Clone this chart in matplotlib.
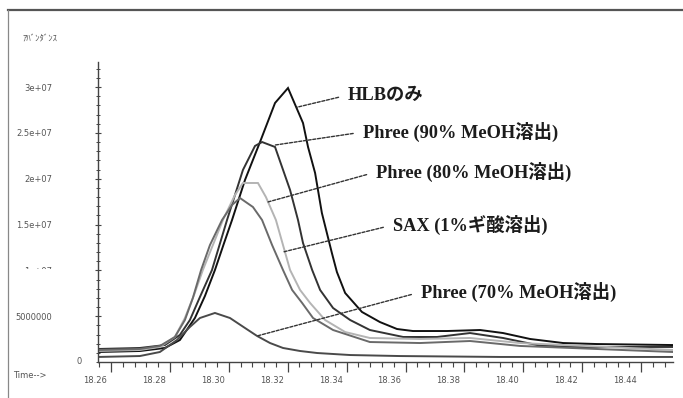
import matplotlib
matplotlib.use("Agg")
import matplotlib.pyplot as plt
from matplotlib.ticker import MultipleLocator, FixedLocator
from matplotlib.transforms import ScaledTranslation
from matplotlib.lines import Line2D
from matplotlib.patches import Rectangle

# ---------------- data (time in min, abundance in counts) ----------------
hlb_t = [18.2556, 18.2698, 18.2783, 18.2834, 18.2885, 18.2919, 18.2953, 18.2984, 18.3011,
         18.3055, 18.3106, 18.3157, 18.3201, 18.3252, 18.3269, 18.3293, 18.3316, 18.3350,
         18.3367, 18.3395, 18.3452, 18.3513, 18.3571, 18.3625, 18.3741, 18.3853, 18.3931,
         18.4023, 18.4135, 18.4250, 18.4508]
hlb_v = [1.09e6, 1.20e6, 1.53e6, 2.40e6, 4.80e6, 7.20e6, 10.04e6, 12.98e6, 15.49e6,
         19.86e6, 24.00e6, 28.26e6, 29.89e6, 26.07e6, 23.46e6, 20.62e6, 16.26e6, 11.89e6,
         9.82e6, 7.53e6, 5.46e6, 4.36e6, 3.60e6, 3.38e6, 3.38e6, 3.49e6, 3.16e6,
         2.51e6, 2.07e6, 1.96e6, 1.85e6]

p90_t = [18.2556, 18.2698, 18.2783, 18.2834, 18.2868, 18.2902, 18.2943, 18.2994, 18.3048,
         18.3089, 18.3113, 18.3157, 18.3208, 18.3235, 18.3252, 18.3283, 18.3310, 18.3354,
         18.3412, 18.3479, 18.3592, 18.3707, 18.3819, 18.3931, 18.4047, 18.4159, 18.4508]
p90_v = [1.42e6, 1.53e6, 1.85e6, 2.95e6, 4.58e6, 7.09e6, 10.04e6, 15.49e6, 20.95e6,
         23.57e6, 24.00e6, 23.46e6, 18.77e6, 15.49e6, 12.98e6, 10.04e6, 7.86e6, 5.89e6,
         4.58e6, 3.49e6, 2.73e6, 2.73e6, 3.16e6, 2.62e6, 1.85e6, 1.64e6, 1.64e6]

p80_t = [18.2556, 18.2698, 18.2766, 18.2817, 18.2851, 18.2882, 18.2912, 18.2946, 18.2980,
         18.3021, 18.3048, 18.3099, 18.3126, 18.3160, 18.3208, 18.3242, 18.3276, 18.3327,
         18.3395, 18.3479, 18.3649, 18.3819, 18.3989, 18.4508]
p80_v = [1.20e6, 1.31e6, 1.64e6, 2.73e6, 4.80e6, 7.31e6, 10.04e6, 12.76e6, 15.49e6,
         18.22e6, 19.53e6, 19.53e6, 18.00e6, 15.49e6, 10.04e6, 7.86e6, 6.44e6, 4.58e6,
         3.27e6, 2.62e6, 2.51e6, 2.62e6, 2.07e6, 1.31e6]

sax_t = [18.2556, 18.2698, 18.2766, 18.2817, 18.2851, 18.2878, 18.2906, 18.2936, 18.2977,
         18.3011, 18.3038, 18.3082, 18.3113, 18.3147, 18.3184, 18.3215, 18.3249, 18.3286,
         18.3354, 18.3479, 18.3649, 18.3819, 18.3989, 18.4508]
sax_v = [1.31e6, 1.42e6, 1.75e6, 2.73e6, 4.58e6, 6.98e6, 10.04e6, 12.76e6, 15.49e6,
         17.13e6, 17.89e6, 16.91e6, 15.49e6, 12.76e6, 10.04e6, 7.86e6, 6.44e6, 4.80e6,
         3.49e6, 2.18e6, 2.07e6, 2.29e6, 1.75e6, 1.09e6]

p70_t = [18.2556, 18.2698, 18.2766, 18.2824, 18.2868, 18.2902, 18.2953, 18.3004, 18.3055,
         18.3096, 18.3140, 18.3184, 18.3242, 18.3300, 18.3412, 18.3581, 18.3921, 18.4508]
p70_v = [0.55e6, 0.65e6, 1.09e6, 2.40e6, 3.82e6, 4.80e6, 5.35e6, 4.80e6, 3.71e6,
         2.84e6, 2.07e6, 1.53e6, 1.20e6, 0.98e6, 0.76e6, 0.65e6, 0.55e6, 0.55e6]

labels = ["HLBのみ", "Phree (90% MeOH溶出)", "Phree (80% MeOH溶出)",
          "SAX (1%ギ酸溶出)", "Phree (70% MeOH溶出)"]

x_ticks = [18.26, 18.28, 18.30, 18.32, 18.34, 18.36, 18.38, 18.40, 18.42, 18.44]
y_ticks = [5e6, 1e7, 1.5e7, 2e7, 2.5e7, 3e7]
y_tick_labels = ["5000000", "1e+07", "1.5e+07", "2e+07", "2.5e+07", "3e+07"]

# leader-line anchors (point on curve) and label positions
anchor_t = [18.3232, 18.3157, 18.3133, 18.3184, 18.3096]
anchor_v = [27.8e6, 23.67e6, 17.46e6, 12.0e6, 2.84e6]
text_t = [18.3405, 18.3455, 18.3500, 18.3557, 18.3652]
text_v = [29.13e6, 25.09e6, 20.73e6, 14.95e6, 7.64e6]

# ---------------- figure ----------------
W, H = 683, 398
fig = plt.figure(figsize=(W / 100, H / 100), dpi=100)
fig.patch.set_facecolor("white")

# window frame
fig.add_artist(Line2D([8 / W, 1], [1 - 10 / H, 1 - 10 / H], color="#555555", lw=1.6,
                      transform=fig.transFigure))
fig.add_artist(Line2D([8 / W, 8 / W], [0, 1 - 10 / H], color="#888888", lw=0.9,
                      transform=fig.transFigure))

ax_l, ax_r, ax_b, ax_t = 98, 673, 362, 62
ax = fig.add_axes([ax_l / W, 1 - ax_b / H, (ax_r - ax_l) / W, (ax_b - ax_t) / H])
ax.set_xlim(18.2556, 18.4508)
ax.set_ylim(0, 3.273e7)

series = [
    (hlb_t, hlb_v, "#111111"),
    (p90_t, p90_v, "#333333"),
    (p80_t, p80_v, "#b4b4b4"),
    (sax_t, sax_v, "#6a6a6a"),
    (p70_t, p70_v, "#4a4a4a"),
]
for t, v, c in series:
    ax.plot(t, v, color=c, lw=1.4, solid_joinstyle="miter")

for spine in ("top", "right"):
    ax.spines[spine].set_visible(False)
for spine in ("left", "bottom"):
    ax.spines[spine].set_color("#444444")
    ax.spines[spine].set_linewidth(1.0)

# x axis ticks
ax.xaxis.set_major_locator(FixedLocator(x_ticks))
ax.xaxis.set_minor_locator(MultipleLocator(0.004))
ax.set_xticklabels([f"{x:.2f}" for x in x_ticks])
ax.tick_params(axis="x", which="major", direction="out", length=7, width=0.9,
               color="#444444", labelsize=6, labelcolor="#555555", pad=3)
ax.tick_params(axis="x", which="minor", direction="out", length=3.5, width=0.8,
               color="#444444")
off = ScaledTranslation(-0.16, 0, fig.dpi_scale_trans)
for lab in ax.get_xticklabels():
    lab.set_transform(lab.get_transform() + off)

# y axis ticks
ax.yaxis.set_major_locator(FixedLocator(y_ticks))
ax.yaxis.set_minor_locator(MultipleLocator(1e6))
ax.set_yticklabels(y_tick_labels)
ax.tick_params(axis="y", which="major", direction="inout", length=4, width=0.8,
               color="#444444", labelsize=6, labelcolor="#555555", pad=31)
ax.tick_params(axis="y", which="minor", direction="inout", length=3, width=0.7,
               color="#444444")

# "0" label placed separately (as in the reference)
ytr = ax.get_yaxis_transform()
ax.text(-0.033, 0, "0", transform=ytr, ha="center", va="center", fontsize=6,
        color="#555555")

# hide lower half of the "1e+07" label like the reference
fig.add_artist(Rectangle((20 / W, 1 - 277 / H), 45 / W, 8 / H, transform=fig.transFigure,
                         facecolor="white", edgecolor="none", zorder=10))

# axis captions
fig.text(22 / W, 1 - 39 / H, "ｱﾊﾞﾝﾀﾞﾝｽ", fontsize=6.3, color="#555555",
         family=["Noto Sans CJK JP", "DejaVu Sans"], va="center", ha="left")
fig.text(13 / W, 1 - 376 / H, "Time-->", fontsize=6, color="#555555", va="center",
         ha="left")

# labels with dashed leaders
for lab, at, av, tt, tv in zip(labels, anchor_t, anchor_v, text_t, text_v):
    ax.annotate(lab, xy=(at, av), xytext=(tt, tv), ha="left", va="center",
                fontsize=13.2, fontweight="bold", color="#1c1c1c",
                family=["Liberation Serif", "Noto Sans CJK JP"],
                arrowprops=dict(arrowstyle="-", linestyle=(0, (2.2, 1.2)), lw=1.0,
                                color="#333333", relpos=(0, 0.5), shrinkA=5, shrinkB=0))

fig.savefig("out.png", dpi=100)
